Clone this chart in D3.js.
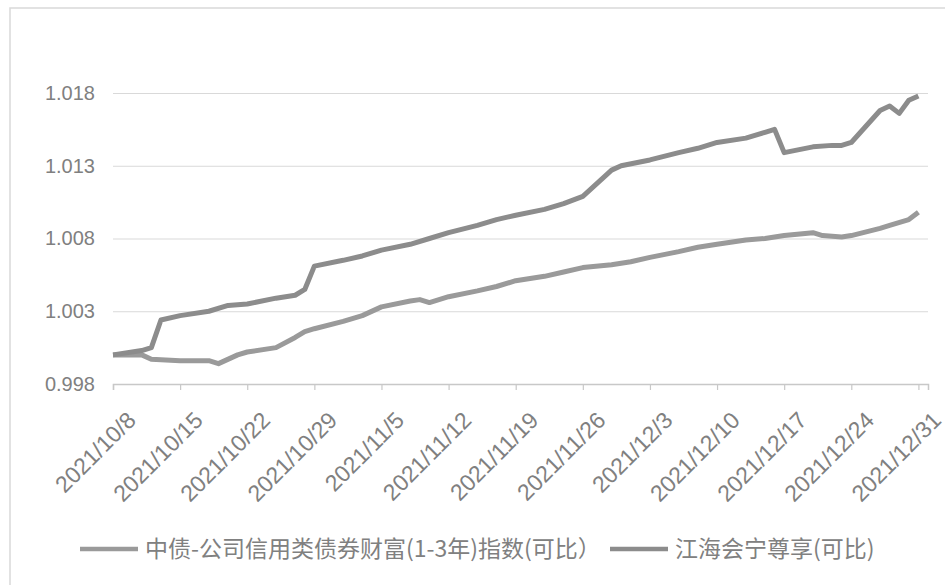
<!DOCTYPE html>
<html>
<head>
<meta charset="utf-8">
<script src="https://cdn.jsdelivr.net/npm/d3@7"></script>
<style>
  body { margin: 0; background: #fff; }
  svg { display: block; font-family: "Noto Sans", "Noto Sans CJK SC", sans-serif; }
</style>
</head>
<body>
<div id="app"></div>
<script>
// 江海会宁尊享(可比) - upper line
const fundDates = ['2021-10-08', '2021-10-11', '2021-10-12', '2021-10-13', '2021-10-15', '2021-10-18',
  '2021-10-20', '2021-10-22', '2021-10-25', '2021-10-27', '2021-10-28', '2021-10-29', '2021-11-01',
  '2021-11-03', '2021-11-05', '2021-11-08', '2021-11-10', '2021-11-12', '2021-11-15', '2021-11-17',
  '2021-11-19', '2021-11-22', '2021-11-24', '2021-11-26', '2021-11-29', '2021-11-30', '2021-12-03',
  '2021-12-06', '2021-12-08', '2021-12-10', '2021-12-13', '2021-12-15', '2021-12-16', '2021-12-17',
  '2021-12-20', '2021-12-22', '2021-12-23', '2021-12-24', '2021-12-27', '2021-12-28', '2021-12-29',
  '2021-12-30', '2021-12-31'];
const fundValues = [1.0000, 1.0003, 1.0005, 1.0024, 1.0027, 1.0030,
  1.0034, 1.0035, 1.0039, 1.0041, 1.0045, 1.0061, 1.0065,
  1.0068, 1.0072, 1.0076, 1.0080, 1.0084, 1.0089, 1.0093,
  1.0096, 1.0100, 1.0104, 1.0109, 1.0127, 1.0130, 1.0134,
  1.0139, 1.0142, 1.0146, 1.0149, 1.0153, 1.0155, 1.0139,
  1.0143, 1.0144, 1.0144, 1.0146, 1.0168, 1.0171, 1.0166,
  1.0175, 1.0178];

// 中债-公司信用类债券财富(1-3年)指数(可比) - lower line
const indexDates = ['2021-10-08', '2021-10-11', '2021-10-12', '2021-10-15', '2021-10-18', '2021-10-19',
  '2021-10-21', '2021-10-22', '2021-10-25', '2021-10-27', '2021-10-28', '2021-10-29', '2021-11-01',
  '2021-11-03', '2021-11-05', '2021-11-08', '2021-11-09', '2021-11-10', '2021-11-12', '2021-11-15',
  '2021-11-17', '2021-11-19', '2021-11-22', '2021-11-24', '2021-11-26', '2021-11-29', '2021-12-01',
  '2021-12-03', '2021-12-06', '2021-12-08', '2021-12-10', '2021-12-13', '2021-12-15', '2021-12-17',
  '2021-12-20', '2021-12-21', '2021-12-23', '2021-12-24', '2021-12-27', '2021-12-28', '2021-12-30',
  '2021-12-31'];
const indexValues = [1.0000, 1.0000, 0.9997, 0.9996, 0.9996, 0.9994,
  1.0000, 1.0002, 1.0005, 1.0012, 1.0016, 1.0018, 1.0023,
  1.0027, 1.0033, 1.0037, 1.0038, 1.0036, 1.0040, 1.0044,
  1.0047, 1.0051, 1.0054, 1.0057, 1.0060, 1.0062, 1.0064,
  1.0067, 1.0071, 1.0074, 1.0076, 1.0079, 1.0080, 1.0082,
  1.0084, 1.0082, 1.0081, 1.0082, 1.0087, 1.0089, 1.0093,
  1.0098];

const tickDates = ['2021-10-08', '2021-10-15', '2021-10-22', '2021-10-29', '2021-11-05', '2021-11-12',
  '2021-11-19', '2021-11-26', '2021-12-03', '2021-12-10', '2021-12-17', '2021-12-24', '2021-12-31'];
const yTicks = [0.998, 1.003, 1.008, 1.013, 1.018];
const seriesNames = ['中债-公司信用类债券财富(1-3年)指数(可比）', '江海会宁尊享(可比)'];

const parse = d3.timeParse('%Y-%m-%d');
const fmt = d3.timeFormat('%Y/%-m/%-d');

const width = 945;
const height = 585;
const plotLeft = 113, plotRight = 928, plotTop = 93, plotBottom = 384;

const svg = d3.select('#app').append('svg')
  .attr('width', width)
  .attr('height', height);

// chart frame
svg.append('rect')
  .attr('x', 10).attr('y', 8)
  .attr('width', 960).attr('height', 600)
  .attr('fill', 'none')
  .attr('stroke', '#d9d9d9')
  .attr('stroke-width', 1.5);

const x = d3.scaleTime()
  .domain([parse('2021-10-08'), parse('2022-01-01')])
  .range([plotLeft, plotRight]);

const y = d3.scaleLinear()
  .domain([0.998, 1.018])
  .range([plotBottom, plotTop]);

// gridlines + y labels
const yAxis = d3.axisLeft(y).tickValues(yTicks).tickSize(-(plotRight - plotLeft)).tickPadding(18)
  .tickFormat(d3.format('.3f'));
const gy = svg.append('g')
  .attr('transform', `translate(${plotLeft}, 0)`)
  .call(yAxis);
gy.select('.domain').remove();
gy.selectAll('.tick line').attr('stroke', '#d9d9d9').attr('stroke-width', 1.2);
gy.selectAll('.tick text')
  .attr('font-size', 20)
  .attr('fill', '#808080');

// x axis
const xAxis = d3.axisBottom(x).tickValues(tickDates.map(parse)).tickSize(6).tickFormat(fmt);
const gx = svg.append('g')
  .attr('transform', `translate(0, ${plotBottom})`)
  .call(xAxis);
gx.select('.domain').attr('stroke', '#c8c8c8').attr('stroke-width', 1.5);
gx.selectAll('.tick line').attr('stroke', '#c8c8c8').attr('stroke-width', 1.2);
gx.selectAll('.tick text')
  .attr('font-size', 23)
  .attr('fill', '#808080')
  .attr('text-anchor', 'end')
  .attr('transform', 'translate(18, 32) rotate(-45)')
  .attr('y', 0)
  .attr('dy', '0.35em');

const line = d3.line()
  .x(d => x(d.date))
  .y(d => y(d.value));

const fund = fundDates.map((d, i) => ({ date: parse(d), value: fundValues[i] }));
const index = indexDates.map((d, i) => ({ date: parse(d), value: indexValues[i] }));

const colors = ['#9a9a9a', '#8c8c8c'];

svg.append('path')
  .datum(index)
  .attr('fill', 'none')
  .attr('stroke', colors[0])
  .attr('stroke-width', 5)
  .attr('stroke-linejoin', 'round')
  .attr('d', line);

svg.append('path')
  .datum(fund)
  .attr('fill', 'none')
  .attr('stroke', colors[1])
  .attr('stroke-width', 5)
  .attr('stroke-linejoin', 'round')
  .attr('d', line);

// legend
const legendX = [80, 610];
const legend = svg.append('g');
seriesNames.forEach((name, i) => {
  const g = legend.append('g').attr('transform', `translate(${legendX[i]}, 549)`);
  g.append('line')
    .attr('x1', 0).attr('x2', 58)
    .attr('stroke', colors[i])
    .attr('stroke-width', 4.5);
  g.append('text')
    .attr('x', 65)
    .attr('dy', '0.35em')
    .attr('font-size', 23)
    .attr('fill', '#808080')
    .attr('font-family', '"Noto Sans CJK SC", sans-serif')
    .text(name);
});
</script>
</body>
</html>
